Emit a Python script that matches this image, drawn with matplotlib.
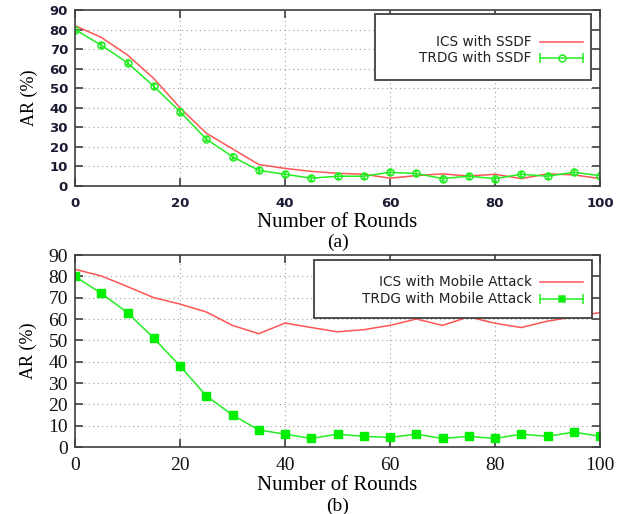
import matplotlib
matplotlib.use("Agg")
import matplotlib.pyplot as plt
from matplotlib.patches import Rectangle
from matplotlib.lines import Line2D

rounds = [0, 5, 10, 15, 20, 25, 30, 35, 40, 45, 50, 55, 60, 65, 70, 75, 80, 85, 90, 95, 100]

ics_ssdf = [82, 76, 67, 55, 40, 27, 19, 11, 9, 7.5, 6.5, 6, 4, 5.3, 6.2, 5.1, 6, 3.8, 6.2, 5.7, 3.8]
trdg_ssdf = [80, 72, 63, 51, 38, 24, 15, 8, 6, 4, 5, 5, 7, 6.4, 3.8, 5, 3.8, 6, 5, 7, 5.3]

ics_mobile = [83.3, 80.2, 75.2, 70, 67, 63.3, 57, 53.1, 58.1, 56, 54, 55, 57, 60, 57, 61, 58, 56, 59, 61, 63]
trdg_mobile = [80, 72, 63, 51, 38, 24, 15, 8, 6, 4, 6, 5, 4.5, 6, 4, 5, 4, 6, 5, 7, 5]

err = 1.2

x_ticks = [0, 20, 40, 60, 80, 100]
y_ticks = [0, 10, 20, 30, 40, 50, 60, 70, 80, 90]

labels_a = ["ICS with SSDF", "TRDG with SSDF"]
labels_b = ["ICS with Mobile Attack", "TRDG with Mobile Attack"]

RED = "#ff5555"
GREEN = "#22ee22"
SPINE = "#404040"

fig = plt.figure(figsize=(6.3, 5.14), dpi=100)

ax1 = fig.add_axes([75/630, 1-186/514, 525/630, 176/514])
ax2 = fig.add_axes([75/630, 1-447/514, 525/630, 192/514])


def style(ax, tick_font, pad):
    ax.set_xlim(0, 100)
    ax.set_ylim(0, 90)
    ax.set_xticks(x_ticks)
    ax.set_yticks(y_ticks)
    ax.grid(True, linestyle=(0, (1, 3)), color="#a0a0a0", linewidth=0.8)
    ax.tick_params(direction="in", length=6, width=1.2, color=SPINE,
                   top=True, right=True)
    ax.tick_params(axis="x", pad=pad)
    ax.tick_params(axis="y", pad=5)
    for s in ax.spines.values():
        s.set_color(SPINE)
        s.set_linewidth(1.2)
    for lab in ax.get_xticklabels() + ax.get_yticklabels():
        lab.update(tick_font)
    ax.set_ylabel("AR (%)", family="Liberation Serif", fontsize=13, labelpad=8)


def legend_box(ax, box, ys, labels, marker, mfc):
    x0, y0, w, h = box
    ax.add_patch(Rectangle((x0, y0), w, h, transform=ax.transAxes,
                           facecolor="white", edgecolor=SPINE, lw=1.3, zorder=4))
    tx, l0, l1 = 0.870, 0.886, 0.968
    kw = dict(transform=ax.transAxes, ha="right", va="center", fontsize=9.8,
              family="DejaVu Sans", color="#222222", zorder=6)
    ax.text(tx, ys[0], labels[0], **kw)
    ax.text(tx, ys[1], labels[1], **kw)
    ax.add_line(Line2D([l0, l1], [ys[0], ys[0]], color=RED, lw=1.1,
                       transform=ax.transAxes, zorder=6))
    ax.add_line(Line2D([l0, l1], [ys[1], ys[1]], color=GREEN, lw=1.1,
                       marker="|", ms=7, mew=1.1, transform=ax.transAxes, zorder=6))
    ax.add_line(Line2D([(l0 + l1) / 2], [ys[1]], color=GREEN, lw=0,
                       marker=marker, ms=5, mfc=mfc, mec=GREEN, mew=1.1,
                       transform=ax.transAxes, zorder=7))


# ---- panel (a)
ax1.plot(rounds, ics_ssdf, color=RED, lw=1.1)
ax1.errorbar(rounds, trdg_ssdf, yerr=err, color=GREEN, lw=1.1, marker="o",
             ms=5, mfc="none", mec=GREEN, mew=1.1, capsize=1.5, elinewidth=1.1)
style(ax1, dict(family="DejaVu Sans", fontweight="bold", fontsize=9.5, color="#1a1a33"), 8)
ax1.set_xlabel("Number of Rounds", family="Liberation Serif", fontsize=15, labelpad=2)
ax1.text(0.5, -0.272, "(a)", transform=ax1.transAxes, ha="center", va="top",
         family="Liberation Serif", fontsize=14)
legend_box(ax1, (0.571, 0.602, 0.412, 0.375), (0.82, 0.73), labels_a, "o", "none")

# ---- panel (b)
ax2.plot(rounds, ics_mobile, color=RED, lw=1.1)
ax2.errorbar(rounds, trdg_mobile, yerr=err, color=GREEN, lw=1.1, marker="s",
             ms=5.5, mfc="#00ee00", mec="#00ee00", capsize=1.5, elinewidth=1.1)
style(ax2, dict(family="Liberation Serif", fontsize=14, color="#111111"), 7)
ax2.set_xlabel("Number of Rounds", family="Liberation Serif", fontsize=15, labelpad=2)
ax2.text(0.5, -0.262, "(b)", transform=ax2.transAxes, ha="center", va="top",
         family="Liberation Serif", fontsize=14)
legend_box(ax2, (0.455, 0.672, 0.53, 0.302), (0.857, 0.773), labels_b, "s", "#00ee00")

fig.savefig("out.png", dpi=100)
